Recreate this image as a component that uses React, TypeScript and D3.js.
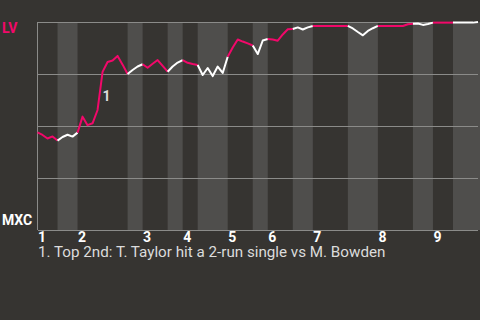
import React from "react";
import * as d3 from "d3";

// Win probability for LV (0-100), one value per plate-appearance event
const events = d3.range(0, 89);
const lvWinProb = [
  46.9, 45.7, 44.0, 45.0, 43.0, 44.7, 45.8, 44.9, 46.8, 54.5,
  50.4, 51.3, 57.7, 76.0, 80.8, 81.5, 83.7, 79.5, 75.0, 76.9,
  78.6, 79.7, 78.0, 79.9, 81.7, 78.9, 76.1, 78.6, 80.5, 81.7,
  80.4, 79.8, 79.3, 74.5, 77.9, 74.0, 78.6, 75.5, 83.3, 87.7,
  91.6, 90.6, 89.7, 88.7, 84.6, 91.1, 91.8, 91.6, 91.0, 94.0,
  96.5, 96.6, 97.4, 96.4, 97.4, 98.1, 98.1, 98.1, 98.1, 98.1,
  98.1, 98.1, 98.1, 96.9, 95.2, 93.6, 95.7, 97.0, 98.1, 98.1,
  98.1, 98.1, 98.1, 98.1, 98.9, 99.2, 99.3, 98.6, 99.0, 99.7,
  99.7, 99.7, 99.7, 99.7, 99.7, 99.7, 99.7, 99.7, 100,
];
// Event index where each half-inning starts/ends (top1, bot1, top2, ...)
const halfInningBreaks = [0, 4, 8, 18, 21, 26, 29, 32, 38, 43, 46, 51, 55, 62, 68, 75, 79, 83, 88];
const inningLabels = ["1", "2", "3", "4", "5", "6", "7", "8", "9"];
const yTicks = [0, 25, 50, 75, 100];
const teams = { top: "LV", bottom: "MXC" };
const annotationEvent = 13;
const annotationLabel = "1";
const caption = "1. Top 2nd: T. Taylor hit a 2-run single vs M. Bowden";

const W = 480;
const H = 320;
const BG = "#363431";
const BAND = "#4f4e4c";
const GRID = "#8b8b89";
const PINK = "#f2086a";
const WHITE = "#ffffff";
const TEXT = "#dcdcdc";
const FONT = "Roboto, 'Noto Sans', sans-serif";

export default function App() {
  const x = d3.scaleLinear().domain([0, 88]).range([37.5, 478]);
  const y = d3.scaleLinear().domain([0, 100]).range([230, 22]);
  const line = d3
    .line<number>()
    .x((e) => x(e))
    .y((e) => y(lvWinProb[e]));

  const halves = halfInningBreaks.slice(0, -1).map((s, i) => ({
    start: s,
    end: halfInningBreaks[i + 1],
    isTop: i % 2 === 0,
    inning: Math.floor(i / 2),
  }));

  const annotY = (lvWinProb[annotationEvent - 1] + lvWinProb[annotationEvent]) / 2;

  return (
    <svg
      width={W}
      height={H}
      style={{ position: "absolute", left: 0, top: 0, background: BG }}
    >
      <rect x={0} y={0} width={W} height={H} fill={BG} />
      {halves
        .filter((h) => !h.isTop)
        .map((h, i) => (
          <rect
            key={"b" + i}
            x={x(h.start)}
            y={y(100)}
            width={(h.end === 88 ? W : x(h.end)) - x(h.start)}
            height={y(0) - y(100)}
            fill={BAND}
          />
        ))}
      {yTicks.map((t) => (
        <line
          key={t}
          x1={x(0)}
          x2={x(88)}
          y1={y(t)}
          y2={y(t)}
          stroke={GRID}
          strokeWidth={1}
          shapeRendering="crispEdges"
        />
      ))}
      <line x1={x(0)} x2={x(0)} y1={y(100)} y2={y(0)} stroke={GRID} strokeWidth={1} />
      {halves.map((h, i) => (
        <path
          key={"l" + i}
          d={line(events.slice(h.start, h.end + 1)) || ""}
          fill="none"
          stroke={h.isTop ? PINK : WHITE}
          strokeWidth={2}
          strokeLinejoin="round"
        />
      ))}
      <text
        x={x(annotationEvent)}
        y={y(annotY) + 10}
        fill={TEXT}
        fontFamily={FONT}
        fontWeight="bold"
        fontSize={14}
      >
        {annotationLabel}
      </text>
      <text x={2} y={33} fill={PINK} fontFamily={FONT} fontWeight="bold" fontSize={14}>
        {teams.top}
      </text>
      <text x={2} y={225} fill={WHITE} fontFamily={FONT} fontWeight="bold" fontSize={14}>
        {teams.bottom}
      </text>
      {halves
        .filter((h) => h.isTop)
        .map((h, i) => (
          <text
            key={"i" + i}
            x={x(h.start) + 0.5}
            y={242}
            fill={WHITE}
            fontFamily={FONT}
            fontWeight="bold"
            fontSize={14}
          >
            {inningLabels[h.inning]}
          </text>
        ))}
      <text x={38} y={257} fill={TEXT} fontFamily={FONT} fontSize={15.2}>
        {caption}
      </text>
    </svg>
  );
}
